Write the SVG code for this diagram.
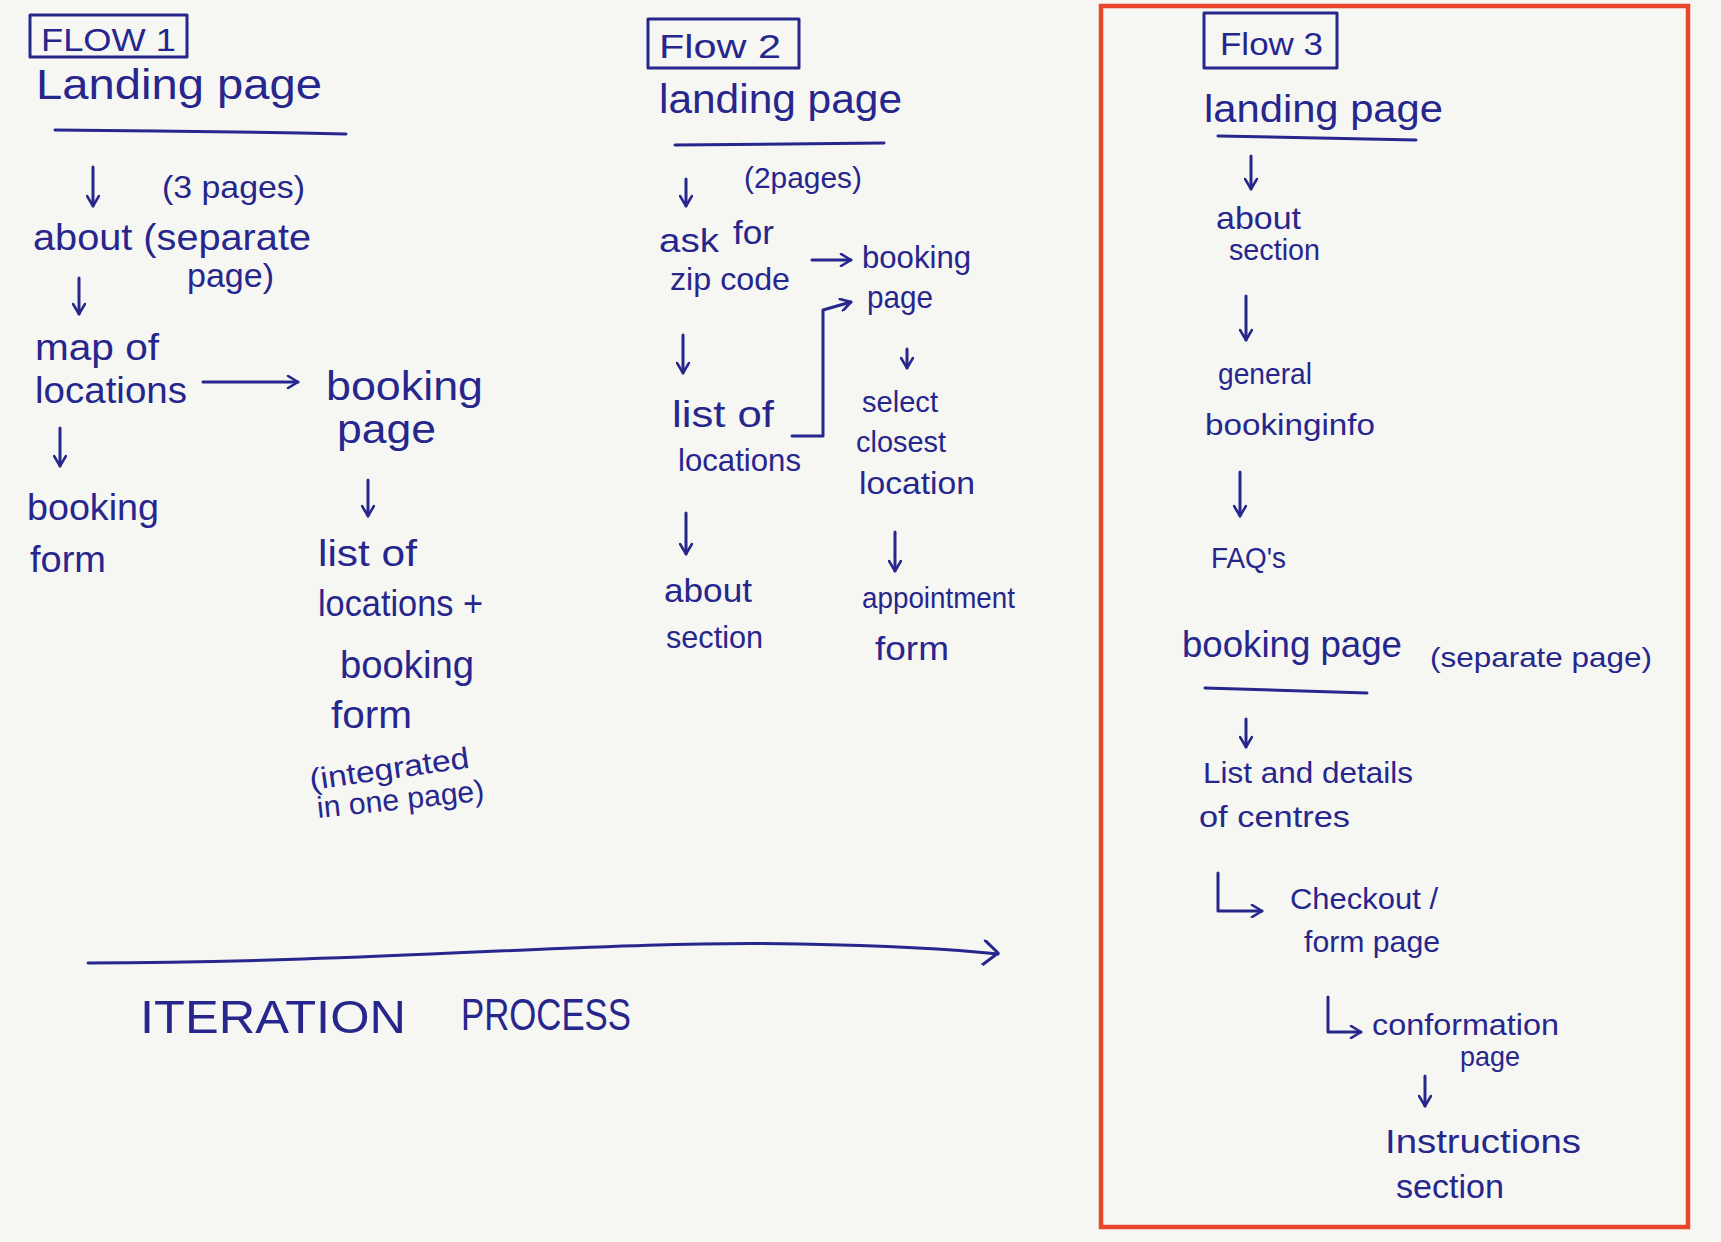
<svg xmlns="http://www.w3.org/2000/svg" width="1721" height="1242" viewBox="0 0 1721 1242">
<style>
.t{font-family:"Liberation Sans","DejaVu Sans",sans-serif;fill:#26268c}
.ln{fill:none;stroke:#26268c;stroke-width:3;stroke-linecap:round;stroke-linejoin:round}
.ar{fill:none;stroke:#26268c;stroke-width:3;stroke-linecap:round;stroke-linejoin:round;marker-end:url(#ah)}
</style>
<defs>
<marker id="ah" viewBox="0 0 14 14" refX="12" refY="7" markerWidth="14" markerHeight="14" markerUnits="userSpaceOnUse" orient="auto">
<path d="M2,1 L12,7 L2,13" fill="none" stroke="#26268c" stroke-width="2.6" stroke-linecap="round" stroke-linejoin="round"/>
</marker>
<marker id="ahL" viewBox="0 0 22 26" refX="20" refY="13" markerWidth="22" markerHeight="26" markerUnits="userSpaceOnUse" orient="auto">
<path d="M6,1 L20,12 L6,25" fill="none" stroke="#26268c" stroke-width="3" stroke-linecap="round" stroke-linejoin="round"/>
</marker>
</defs>
<rect x="0" y="0" width="1721" height="1242" fill="#f6f6f3"/>

<g id="flow1">
<g id="f1-title"><rect class="ln" x="30" y="15" width="157" height="42"/><text class="t" x="41" y="51" font-size="32" textLength="135" lengthAdjust="spacingAndGlyphs">FLOW 1</text></g>
<g id="f1-landing"><text class="t" x="36" y="99" font-size="42" textLength="286" lengthAdjust="spacingAndGlyphs">Landing page</text><path class="ln" d="M55,130 Q200,131 346,134"/></g>
<g id="f1-pages"><text class="t" x="162" y="198" font-size="32" textLength="143" lengthAdjust="spacingAndGlyphs">(3 pages)</text></g>
<g id="f1-about"><text class="t" x="33" y="250" font-size="36" textLength="278" lengthAdjust="spacingAndGlyphs">about (separate</text><text class="t" x="187" y="287" font-size="34" textLength="87" lengthAdjust="spacingAndGlyphs">page)</text></g>
<g id="f1-map"><text class="t" x="35" y="360" font-size="36" textLength="124" lengthAdjust="spacingAndGlyphs">map of</text><text class="t" x="35" y="403" font-size="36" textLength="152" lengthAdjust="spacingAndGlyphs">locations</text></g>
<g id="f1-bookingpage"><text class="t" x="326" y="400" font-size="40" textLength="157" lengthAdjust="spacingAndGlyphs">booking</text><text class="t" x="337" y="443" font-size="40" textLength="99" lengthAdjust="spacingAndGlyphs">page</text></g>
<g id="f1-bookingform"><text class="t" x="27" y="520" font-size="36" textLength="132" lengthAdjust="spacingAndGlyphs">booking</text><text class="t" x="30" y="572" font-size="36" textLength="76" lengthAdjust="spacingAndGlyphs">form</text></g>
<g id="f1-list"><text class="t" x="318" y="566" font-size="36" textLength="99" lengthAdjust="spacingAndGlyphs">list of</text><text class="t" x="318" y="616" font-size="36" textLength="165" lengthAdjust="spacingAndGlyphs">locations +</text><text class="t" x="340" y="678" font-size="38" textLength="134" lengthAdjust="spacingAndGlyphs">booking</text><text class="t" x="331" y="728" font-size="38" textLength="81" lengthAdjust="spacingAndGlyphs">form</text><text class="t" x="311" y="790" font-size="30" textLength="161" lengthAdjust="spacingAndGlyphs" transform="rotate(-8 311 790)">(integrated</text><text class="t" x="318" y="818" font-size="30" textLength="168" lengthAdjust="spacingAndGlyphs" transform="rotate(-6 318 818)">in one page)</text></g>
</g>

<g id="flow2">
<g id="f2-title"><rect class="ln" x="648" y="19" width="151" height="49"/><text class="t" x="659" y="58" font-size="34" textLength="122" lengthAdjust="spacingAndGlyphs">Flow 2</text></g>
<g id="f2-landing"><text class="t" x="659" y="113" font-size="40" textLength="243" lengthAdjust="spacingAndGlyphs">landing page</text><path class="ln" d="M675,145 L884,143"/></g>
<g id="f2-pages"><text class="t" x="744" y="188" font-size="30" textLength="118" lengthAdjust="spacingAndGlyphs">(2pages)</text></g>
<g id="f2-zip"><text class="t" x="659" y="252" font-size="34" textLength="60" lengthAdjust="spacingAndGlyphs">ask</text><text class="t" x="733" y="244" font-size="34" textLength="41" lengthAdjust="spacingAndGlyphs">for</text><text class="t" x="670" y="290" font-size="32" textLength="120" lengthAdjust="spacingAndGlyphs">zip code</text></g>
<g id="f2-booking"><text class="t" x="862" y="268" font-size="32" textLength="109" lengthAdjust="spacingAndGlyphs">booking</text><text class="t" x="867" y="308" font-size="32" textLength="66" lengthAdjust="spacingAndGlyphs">page</text></g>
<g id="f2-list"><text class="t" x="672" y="427" font-size="36" textLength="102" lengthAdjust="spacingAndGlyphs">list of</text><text class="t" x="678" y="471" font-size="32" textLength="123" lengthAdjust="spacingAndGlyphs">locations</text></g>
<g id="f2-select"><text class="t" x="862" y="412" font-size="30" textLength="76" lengthAdjust="spacingAndGlyphs">select</text><text class="t" x="856" y="452" font-size="30" textLength="90" lengthAdjust="spacingAndGlyphs">closest</text><text class="t" x="859" y="494" font-size="32" textLength="116" lengthAdjust="spacingAndGlyphs">location</text></g>
<g id="f2-about"><text class="t" x="664" y="602" font-size="34" textLength="88" lengthAdjust="spacingAndGlyphs">about</text><text class="t" x="666" y="648" font-size="32" textLength="97" lengthAdjust="spacingAndGlyphs">section</text></g>
<g id="f2-appointment"><text class="t" x="862" y="608" font-size="30" textLength="153" lengthAdjust="spacingAndGlyphs">appointment</text><text class="t" x="875" y="660" font-size="34" textLength="74" lengthAdjust="spacingAndGlyphs">form</text></g>
</g>

<g id="flow3">
<rect id="f3-frame" x="1101" y="6" width="587" height="1221" fill="none" stroke="#e8472e" stroke-width="4.5"/>
<g id="f3-title"><rect class="ln" x="1204" y="13" width="133" height="55"/><text class="t" x="1220" y="55" font-size="32" textLength="103" lengthAdjust="spacingAndGlyphs">Flow 3</text></g>
<g id="f3-landing"><text class="t" x="1204" y="122" font-size="38" textLength="239" lengthAdjust="spacingAndGlyphs">landing page</text><path class="ln" d="M1218,136 L1416,140"/></g>
<g id="f3-about"><text class="t" x="1216" y="229" font-size="32" textLength="85" lengthAdjust="spacingAndGlyphs">about</text><text class="t" x="1229" y="260" font-size="30" textLength="91" lengthAdjust="spacingAndGlyphs">section</text></g>
<g id="f3-general"><text class="t" x="1218" y="384" font-size="30" textLength="94" lengthAdjust="spacingAndGlyphs">general</text><text class="t" x="1205" y="435" font-size="30" textLength="170" lengthAdjust="spacingAndGlyphs">bookinginfo</text></g>
<g id="f3-faq"><text class="t" x="1211" y="568" font-size="30" textLength="75" lengthAdjust="spacingAndGlyphs">FAQ's</text></g>
<g id="f3-booking"><text class="t" x="1182" y="657" font-size="36" textLength="220" lengthAdjust="spacingAndGlyphs">booking page</text><text class="t" x="1430" y="667" font-size="28" textLength="222" lengthAdjust="spacingAndGlyphs">(separate page)</text><path class="ln" d="M1205,688 L1367,693"/></g>
<g id="f3-list"><text class="t" x="1203" y="783" font-size="30" textLength="210" lengthAdjust="spacingAndGlyphs">List and details</text><text class="t" x="1199" y="827" font-size="30" textLength="151" lengthAdjust="spacingAndGlyphs">of centres</text></g>
<g id="f3-checkout"><text class="t" x="1290" y="909" font-size="30" textLength="148" lengthAdjust="spacingAndGlyphs">Checkout /</text><text class="t" x="1304" y="952" font-size="30" textLength="136" lengthAdjust="spacingAndGlyphs">form page</text></g>
<g id="f3-confirm"><text class="t" x="1372" y="1035" font-size="30" textLength="187" lengthAdjust="spacingAndGlyphs">conformation</text><text class="t" x="1460" y="1066" font-size="28" textLength="60" lengthAdjust="spacingAndGlyphs">page</text></g>
<g id="f3-instructions"><text class="t" x="1385" y="1153" font-size="34" textLength="196" lengthAdjust="spacingAndGlyphs">Instructions</text><text class="t" x="1396" y="1198" font-size="34" textLength="108" lengthAdjust="spacingAndGlyphs">section</text></g>
</g>

<g id="iteration">
<text class="t" x="140" y="1033" font-size="46" textLength="266" lengthAdjust="spacingAndGlyphs">ITERATION</text>
<text class="t" x="461" y="1030" font-size="44" textLength="170" lengthAdjust="spacingAndGlyphs">PROCESS</text>
</g>

<g id="connectors">
<path class="ar" d="M93,167 L93,206"/>
<path class="ar" d="M79,278 L79,314"/>
<path class="ar" d="M203,382 L298,382"/>
<path class="ar" d="M60,428 L60,466"/>
<path class="ar" d="M368,480 L368,516"/>
<path class="ar" d="M686,179 L686,206"/>
<path class="ar" d="M812,260 L851,260"/>
<path class="ar" d="M683,335 L683,373"/>
<path class="ar" d="M792,436 L823,436 L823,310 L851,302"/>
<path class="ar" d="M907,349 L907,368"/>
<path class="ar" d="M686,513 L686,554"/>
<path class="ar" d="M895,532 L895,571"/>
<path class="ar" d="M1251,156 L1251,189"/>
<path class="ar" d="M1246,296 L1246,340"/>
<path class="ar" d="M1240,472 L1240,516"/>
<path class="ar" d="M1246,719 L1246,747"/>
<path class="ar" d="M1218,873 L1218,911 L1262,911"/>
<path class="ar" d="M1328,997 L1328,1032 L1361,1032"/>
<path class="ar" d="M1425,1076 L1425,1106"/>
<path class="ln" d="M88,963 C400,962 600,940 800,944 C900,946 960,950 998,954" marker-end="url(#ahL)"/>
</g>
</svg>
